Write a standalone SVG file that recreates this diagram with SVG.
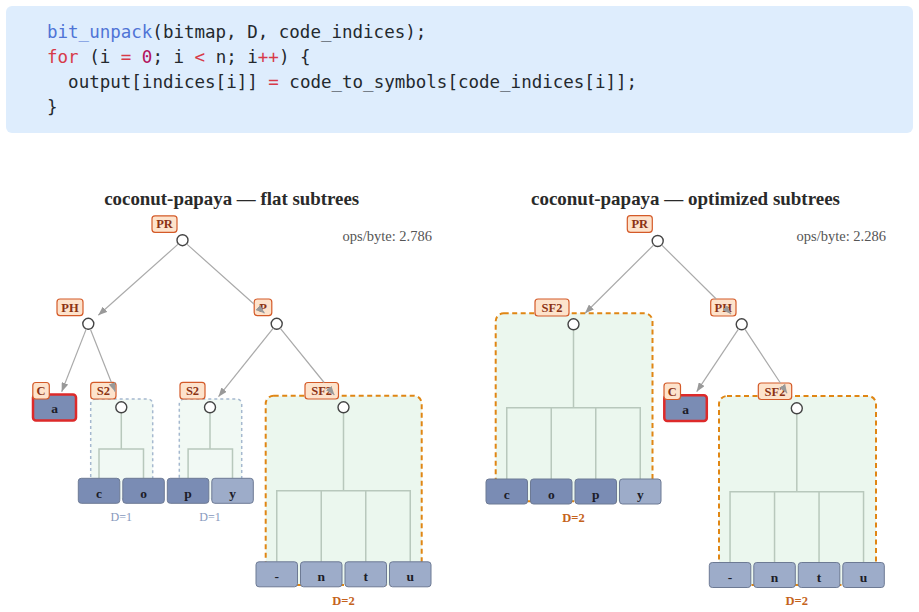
<svg xmlns="http://www.w3.org/2000/svg" width="919" height="612" viewBox="0 0 919 612">
<style>
.code{font-family:"DejaVu Sans Mono","Liberation Mono",monospace;font-size:17.5px;fill:#24292e}
.kw{fill:#d73a49}.fn{fill:#4f74d6}.num{fill:#b3125b}
.title{font-family:"Liberation Serif","DejaVu Serif",serif;font-size:19px;font-weight:bold;fill:#2a2a2a;text-anchor:middle}
.ops{font-family:"Liberation Serif","DejaVu Serif",serif;font-size:14.5px;fill:#555;text-anchor:end}
.lbl rect{fill:#fde3cc;stroke:#d45a28;stroke-width:1.2}
.lbl text{font-family:"Liberation Serif","DejaVu Serif",serif;font-size:12.5px;font-weight:bold;fill:#8b3214;text-anchor:middle}
.node{fill:#fff;stroke:#444;stroke-width:1.4}
.edge{fill:none;stroke:#aaa;stroke-width:1.2;marker-end:url(#arr)}
.br{fill:none;stroke:#b8c8bc;stroke-width:1.5}
.leaf rect{stroke:#6d7a94;stroke-width:1}
.dk{fill:#7a8cb4}.lt{fill:#9dacc9}
.leaf text{font-family:"Liberation Serif","DejaVu Serif",serif;font-size:13.5px;font-weight:bold;fill:#1c1c28;text-anchor:middle}
.sbox1{fill:#f1f9f4;stroke:#a5b8cf;stroke-width:1.5;stroke-dasharray:3 3}
.sbox2{fill:#ebf7ee;stroke:#e08614;stroke-width:2;stroke-dasharray:5 3.5}
.d1{font-family:"Liberation Serif","DejaVu Serif",serif;font-size:12px;fill:#8799bd;text-anchor:middle}
.d2{font-family:"Liberation Serif","DejaVu Serif",serif;font-size:12.5px;font-weight:bold;fill:#c5631c;text-anchor:middle}
.leaf rect.red{fill:#7a8cb4;stroke:#dd2a2a;stroke-width:2.5}
</style>
<defs>
<marker id="arr" viewBox="0 0 9 7" refX="9" refY="3.5" markerWidth="9" markerHeight="7" markerUnits="userSpaceOnUse" orient="auto"><path d="M0,0 L9,3.5 L0,7 z" fill="#999"/></marker>
</defs>

<g id="code">
<rect x="6" y="6" width="907" height="127" rx="6" fill="#deedfd"/>
<text class="code" x="47" y="38"><tspan class="fn">bit_unpack</tspan>(bitmap, D, code_indices);</text>
<text class="code" x="47" y="63"><tspan class="kw">for</tspan> (i <tspan class="kw">=</tspan> <tspan class="num">0</tspan>; i <tspan class="kw">&lt;</tspan> n; i<tspan class="kw">++</tspan>) {</text>
<text class="code" x="68.1" y="88">output[indices[i]] <tspan class="kw">=</tspan> code_to_symbols[code_indices[i]];</text>
<text class="code" x="47" y="113">}</text>
</g>

<text class="title" x="231.7" y="205" textLength="255" lengthAdjust="spacingAndGlyphs">coconut-papaya — flat subtrees</text>
<text class="ops" x="432" y="241">ops/byte: 2.786</text>
<text class="title" x="685.5" y="205" textLength="309" lengthAdjust="spacingAndGlyphs">coconut-papaya — optimized subtrees</text>
<text class="ops" x="886" y="241">ops/byte: 2.286</text>

<!-- LEFT PANEL -->
<g id="L-S2a">
<rect class="sbox1" x="90.7" y="399" width="62" height="100" rx="5"/>
<path class="br" d="M121.3,412.8 V449 M99,478.3 V449 H143.5 V478.3"/>
<circle class="node" cx="121.3" cy="407.3" r="5.5"/>
<g class="lbl"><rect x="90.7" y="382.3" width="25.3" height="16.7" rx="3"/><text x="103.4" y="395">S2</text></g>
</g>
<g id="L-S2b">
<rect class="sbox1" x="179.3" y="399" width="62.4" height="100" rx="5"/>
<path class="br" d="M210,412.8 V449 M188.1,478.3 V449 H232.5 V478.3"/>
<circle class="node" cx="210" cy="407.3" r="5.5"/>
<g class="lbl"><rect x="180" y="382.3" width="25" height="16.7" rx="3"/><text x="192.5" y="395">S2</text></g>
</g>
<g id="L-SF2">
<rect class="sbox2" x="265.7" y="395.7" width="156" height="189.3" rx="8"/>
<path class="br" d="M343.5,412.8 V490.7 M276.75,561.8 V490.7 H410.25 V561.8 M321.25,490.7 V561.8 M365.75,490.7 V561.8"/>
<circle class="node" cx="343.5" cy="407.3" r="5.5"/>
<g class="lbl"><rect x="305" y="382.5" width="33.5" height="16.5" rx="3"/><text x="321.7" y="395.1">SF2</text></g>
</g>
<g id="L-leaves">
<g class="leaf"><rect class="dk" x="78.3" y="478.3" width="41.5" height="25" rx="3"/><text x="99.05" y="497.8">c</text></g>
<g class="leaf"><rect class="dk" x="122.8" y="478.3" width="41.5" height="25" rx="3"/><text x="143.55" y="497.8">o</text></g>
<g class="leaf"><rect class="dk" x="167.3" y="478.3" width="41.5" height="25" rx="3"/><text x="188.05" y="497.8">p</text></g>
<g class="leaf"><rect class="lt" x="211.8" y="478.3" width="41.5" height="25" rx="3"/><text x="232.55" y="497.8">y</text></g>
<g class="leaf"><rect class="lt" x="256" y="561.8" width="41.5" height="25" rx="3"/><text x="276.75" y="580.8">-</text></g>
<g class="leaf"><rect class="lt" x="300.5" y="561.8" width="41.5" height="25" rx="3"/><text x="321.25" y="580.8">n</text></g>
<g class="leaf"><rect class="lt" x="345" y="561.8" width="41.5" height="25" rx="3"/><text x="365.75" y="580.8">t</text></g>
<g class="leaf"><rect class="lt" x="389.5" y="561.8" width="41.5" height="25" rx="3"/><text x="410.25" y="580.8">u</text></g>
<text class="d1" x="121.3" y="521">D=1</text>
<text class="d1" x="210" y="521">D=1</text>
<text class="d2" x="343.5" y="604.5">D=2</text>
</g>
<g id="L-a">
<g class="leaf"><rect class="red" x="33" y="394.5" width="43" height="26" rx="3"/><text x="54.5" y="413.3">a</text></g>
<g class="lbl"><rect x="32.8" y="382.5" width="16.5" height="16.5" rx="3"/><text x="41" y="395.1">C</text></g>
</g>
<g id="L-PR">
<circle class="node" cx="182.5" cy="240.2" r="5.5"/>
<g class="lbl"><rect x="152" y="215.8" width="25" height="16.5" rx="3"/><text x="164.5" y="228.4">PR</text></g>
</g>
<g id="L-PH">
<circle class="node" cx="88.3" cy="323.8" r="5.5"/>
<g class="lbl"><rect x="57" y="299" width="26" height="16.6" rx="3"/><text x="70" y="311.6">PH</text></g>
</g>
<g id="L-P">
<circle class="node" cx="276.7" cy="323.8" r="5.5"/>
<g class="lbl"><rect x="254.2" y="299" width="17.6" height="16.6" rx="3"/><text x="263" y="311.6">P</text></g>
</g>

<!-- RIGHT PANEL -->
<g id="R-SF2a">
<rect class="sbox2" x="495.7" y="313.3" width="156.8" height="188" rx="8"/>
<path class="br" d="M573.5,329.8 V407.7 M506.75,479 V407.7 H640.25 V479 M551.25,407.7 V479 M595.75,407.7 V479"/>
<circle class="node" cx="573.5" cy="324.3" r="5.5"/>
<g class="lbl"><rect x="535" y="299" width="34" height="17" rx="3"/><text x="552" y="311.8">SF2</text></g>
</g>
<g id="R-SF2b">
<rect class="sbox2" x="719" y="396" width="157" height="189" rx="8"/>
<path class="br" d="M796.8,413.8 V491.7 M730.05,562.5 V491.7 H863.55 V562.5 M774.55,491.7 V562.5 M819.05,491.7 V562.5"/>
<circle class="node" cx="796.8" cy="408.3" r="5.5"/>
<g class="lbl"><rect x="758.3" y="383" width="33.4" height="16.5" rx="3"/><text x="775" y="395.6">SF2</text></g>
</g>
<g id="R-leaves">
<g class="leaf"><rect class="dk" x="486" y="479" width="41.5" height="25" rx="3"/><text x="506.75" y="498.5">c</text></g>
<g class="leaf"><rect class="dk" x="530.5" y="479" width="41.5" height="25" rx="3"/><text x="551.25" y="498.5">o</text></g>
<g class="leaf"><rect class="dk" x="575" y="479" width="41.5" height="25" rx="3"/><text x="595.75" y="498.5">p</text></g>
<g class="leaf"><rect class="lt" x="619.5" y="479" width="41.5" height="25" rx="3"/><text x="640.25" y="498.5">y</text></g>
<g class="leaf"><rect class="lt" x="709.3" y="562.5" width="41.5" height="25" rx="3"/><text x="730.05" y="581.5">-</text></g>
<g class="leaf"><rect class="lt" x="753.8" y="562.5" width="41.5" height="25" rx="3"/><text x="774.55" y="581.5">n</text></g>
<g class="leaf"><rect class="lt" x="798.3" y="562.5" width="41.5" height="25" rx="3"/><text x="819.05" y="581.5">t</text></g>
<g class="leaf"><rect class="lt" x="842.8" y="562.5" width="41.5" height="25" rx="3"/><text x="863.55" y="581.5">u</text></g>
<text class="d2" x="573.5" y="522.3">D=2</text>
<text class="d2" x="796.8" y="605.3">D=2</text>
</g>
<g id="R-a">
<g class="leaf"><rect class="red" x="664.3" y="395.3" width="42.5" height="25.8" rx="3"/><text x="685.5" y="414">a</text></g>
<g class="lbl"><rect x="664" y="383" width="16.5" height="16.5" rx="3"/><text x="672.2" y="395.6">C</text></g>
</g>
<g id="R-PR">
<circle class="node" cx="657.7" cy="241" r="5.5"/>
<g class="lbl"><rect x="627.3" y="215.7" width="25" height="16.6" rx="3"/><text x="639.8" y="228.3">PR</text></g>
</g>
<g id="R-PH">
<circle class="node" cx="741.7" cy="324.3" r="5.5"/>
<g class="lbl"><rect x="710.7" y="299" width="25.3" height="17" rx="3"/><text x="723.3" y="311.8">PH</text></g>
</g>

<g id="connectors">
<path class="edge" d="M178.4,243.9 L98.3,315.2"/>
<path class="edge" d="M186.6,243.9 L254.2,304.2 M263.1,312 L264.6,313.3"/>
<path class="edge" d="M86.3,328.9 L61.7,391.7"/>
<path class="edge" d="M90.3,329 L111.3,382.3 M114.5,389.8 L115.2,391.7"/>
<path class="edge" d="M273.3,328.1 L218.5,396.7"/>
<path class="edge" d="M280.1,328.1 L324.1,382.5 M333.1,393.4 L334.4,395"/>
<path class="edge" d="M653.8,244.9 L585,313.3"/>
<path class="edge" d="M661.6,244.9 L716.2,299 M729.6,312.6 L731,314"/>
<path class="edge" d="M738.6,328.9 L696.7,391.7"/>
<path class="edge" d="M744.7,328.9 L780.4,383 M786,391.6 L787.1,393.3"/>
</g>
</svg>
